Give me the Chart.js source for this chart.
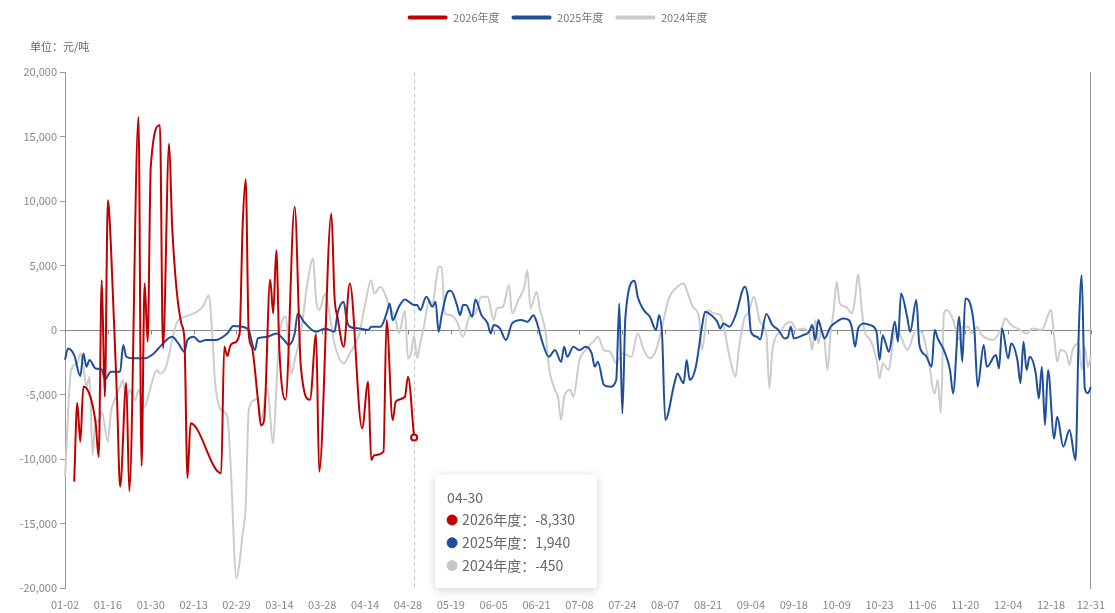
<!DOCTYPE html>
<html>
<head>
<meta charset="utf-8">
<script src="https://cdn.jsdelivr.net/npm/chart.js@4.4.1/dist/chart.umd.min.js"></script>
<style>
  html, body { margin: 0; padding: 0; background: #fff; }
</style>
</head>
<body>
<canvas id="chart" width="1115" height="613"></canvas>
<script>
// ── DATA ──────────────────────────────────────────────────────────────────

// calendar used for the category axis (days without any quote are left out)
const monthLengths = [31, 29, 31, 30, 31, 30, 31, 31, 30, 31, 30, 31];
const closedDays = ['01-01', '02-17', '02-18', '04-04', '04-05', '04-06',
  '05-01', '05-02', '05-03', '05-04', '05-05', '05-11', '05-12',
  '05-31', '06-01', '06-02', '06-15', '06-16', '06-29', '06-30', '07-06',
  '07-13', '07-14', '10-01', '10-02', '10-03', '10-04', '10-05', '10-06', '10-07'];

const tickLabels = ['01-02', '01-16', '01-30', '02-13', '02-29', '03-14', '03-28',
  '04-14', '04-28', '05-19', '06-05', '06-21', '07-08', '07-24', '08-07', '08-21',
  '09-04', '09-18', '10-09', '10-23', '11-06', '11-20', '12-04', '12-18', '12-31'];

const yTicks = { min: -20000, max: 20000, step: 5000 };
const unitText = '单位：元/吨';
const focusDate = '04-30';

const seriesNames = ['2026年度', '2025年度', '2024年度'];

const points2026 = [
  ['01-05', -11750], ['01-06', -5660], ['01-07', -8650], ['01-08', -4390], ['01-09', -4500],
  ['01-12', -7200], ['01-13', -9820], ['01-14', 3875], ['01-15', -5170], ['01-16', 10075],
  ['01-17', 6500], ['01-19', -5400], ['01-20', -12140], ['01-22', -4100], ['01-23', -12500],
  ['01-26', 16530], ['01-27', -10540], ['01-28', 3640], ['01-29', -900], ['01-30', 12650],
  ['02-02', 15890], ['02-03', -1400], ['02-05', 14470], ['02-06', 8000], ['02-09', 500],
  ['02-10', -700], ['02-11', -11470], ['02-12', -7230], ['02-24', -11100], ['02-25', -1300],
  ['02-26', -2000], ['02-27', -1200], ['02-28', -1000], ['03-01', -300], ['03-02', 8000],
  ['03-03', 11700], ['03-04', -300], ['03-05', -1300], ['03-07', -5400], ['03-08', -7400],
  ['03-09', -7000], ['03-11', 3900], ['03-12', 1300], ['03-13', 6200], ['03-14', -1500],
  ['03-16', -5400], ['03-19', 9560], ['03-21', -2800], ['03-24', -5400], ['03-26', -300],
  ['03-27', -10980], ['03-31', 9040], ['04-01', 2580], ['04-02', 1000], ['04-07', -1290],
  ['04-09', 3620], ['04-13', -7620], ['04-15', -4000], ['04-16', -10075], ['04-17', -9700],
  ['04-20', -9430], ['04-21', 775], ['04-23', -6975], ['04-24', -5550], ['04-27', -5170],
  ['04-28', -3620], ['04-30', -8330]
];

const points2025 = [
  ['01-02', -2300], ['01-03', -1420], ['01-05', -1940], ['01-07', -3570], ['01-08', -1810],
  ['01-09', -2840], ['01-10', -2320], ['01-12', -2970], ['01-14', -3050], ['01-15', -3820],
  ['01-17', -3230], ['01-20', -3230], ['01-21', -1160], ['01-22', -2070], ['01-24', -2190],
  ['01-28', -2190], ['01-31', -1810], ['02-03', -1030], ['02-06', -520], ['02-08', -1030],
  ['02-10', -1680], ['02-11', -775], ['02-13', -520], ['02-15', -900], ['02-19', -775],
  ['02-22', -775], ['02-26', -260], ['02-28', 310], ['03-03', 180], ['03-04', 0],
  ['03-06', -1550], ['03-07', -650], ['03-10', -520], ['03-13', -260], ['03-16', -900],
  ['03-17', -1160], ['03-19', -260], ['03-20', 1290], ['03-22', 650], ['03-26', -130],
  ['03-29', 130], ['04-01', -130], ['04-02', 1290], ['04-07', 2190], ['04-08', 775],
  ['04-09', 260], ['04-12', 130], ['04-15', 0], ['04-16', 260], ['04-19', 260],
  ['04-21', 1290], ['04-22', 2070], ['04-23', 775], ['04-25', 1800], ['04-27', 2380],
  ['04-29', 2070], ['04-30', 1940], ['05-06', 1940], ['05-07', 1550], ['05-09', 2580],
  ['05-13', 1810], ['05-14', 2190], ['05-15', -130], ['05-16', 1160], ['05-18', 2970],
  ['05-19', 3050], ['05-21', 1940], ['05-22', 1160], ['05-23', 1940], ['05-24', 1940],
  ['05-26', 1030], ['05-27', 2380], ['05-29', 1160], ['06-03', 520], ['06-04', -260],
  ['06-05', 390], ['06-07', 130], ['06-09', -775], ['06-11', 520], ['06-14', 775],
  ['06-18', 650], ['06-20', 1160], ['06-21', 650], ['06-23', -1030], ['06-25', -2070],
  ['06-27', -1550], ['07-01', -2460], ['07-02', -1290], ['07-03', -2070], ['07-05', -1290],
  ['07-08', -1550], ['07-10', -1290], ['07-12', -1810], ['07-15', -2840], ['07-16', -2460],
  ['07-18', -4260], ['07-20', -4390], ['07-22', -3875], ['07-23', 2070], ['07-24', -6460],
  ['07-25', 1030], ['07-28', 3820], ['07-29', 2580], ['07-31', 1550], ['08-02', 1030],
  ['08-04', 0], ['08-05', 1160], ['08-06', -520], ['08-07', -6975], ['08-10', -4130],
  ['08-11', -3360], ['08-13', -4130], ['08-14', -2325], ['08-15', -3875], ['08-17', -2840],
  ['08-19', 260], ['08-20', 1420], ['08-22', 1160], ['08-24', 650], ['08-25', 130],
  ['08-26', 520], ['08-28', 260], ['08-30', 1160], ['09-02', 3360], ['09-03', 2580],
  ['09-04', -130], ['09-06', -520], ['09-07', -720], ['09-09', 1240], ['09-11', 390],
  ['09-13', 0], ['09-15', -650], ['09-16', -570], ['09-17', 260], ['09-18', -650],
  ['09-21', -390], ['09-23', -130], ['09-24', 390], ['09-25', -775], ['09-26', 775],
  ['09-27', 0], ['09-28', -650], ['09-30', 260], ['10-09', 650], ['10-11', 900],
  ['10-13', 775], ['10-14', 130], ['10-15', -1290], ['10-16', 130], ['10-18', 520],
  ['10-20', 390], ['10-22', -130], ['10-23', -2320], ['10-24', -390], ['10-25', -1030],
  ['10-26', -1680], ['10-28', 650], ['10-29', -900], ['10-30', 2840], ['11-01', 1030],
  ['11-02', -130], ['11-04', 2325], ['11-05', -1160], ['11-07', -1940], ['11-09', -2840],
  ['11-10', 0], ['11-11', -650], ['11-13', -1550], ['11-15', -3100], ['11-16', -4910],
  ['11-18', 1030], ['11-19', -2460], ['11-20', 2460], ['11-22', 1680], ['11-23', -130],
  ['11-24', -4390], ['11-26', -1160], ['11-27', -2840], ['11-30', -1940], ['12-01', -2970],
  ['12-02', 130], ['12-04', -2190], ['12-05', -1030], ['12-07', -2320], ['12-08', -4130],
  ['12-09', -900], ['12-10', -3100], ['12-11', -2070], ['12-13', -3360], ['12-14', -5300],
  ['12-15', -2840], ['12-16', -7360], ['12-17', -3100], ['12-19', -8400], ['12-20', -6720],
  ['12-22', -9040], ['12-24', -7750], ['12-26', -10075], ['12-27', -500], ['12-28', 4260],
  ['12-29', -4500], ['12-30', -4900], ['12-31', -4400]
];

const points2024 = [
  ['01-02', -11370], ['01-04', -3100], ['01-06', -2580], ['01-07', -1810], ['01-08', -2840],
  ['01-09', -4390], ['01-10', -3620], ['01-11', -9690], ['01-12', -6975], ['01-13', -7100],
  ['01-14', -6330], ['01-16', -8650], ['01-17', -6330], ['01-18', -5550], ['01-20', -4390],
  ['01-21', -3875], ['01-22', -5550], ['01-23', -4650], ['01-25', -5425], ['01-26', -4650],
  ['01-28', -5940], ['01-30', -4390], ['02-01', -3100], ['02-02', -3360], ['02-04', -2840],
  ['02-07', 260], ['02-08', 775], ['02-10', 1030], ['02-13', 1290], ['02-16', 1810],
  ['02-20', 2710], ['02-21', 0], ['02-22', -4000], ['02-24', -6200], ['02-26', -6700],
  ['02-27', -10075], ['02-29', -19240], ['03-01', -18000], ['03-02', -15800], ['03-03', -13700],
  ['03-04', -6200], ['03-06', -5425], ['03-07', -5300], ['03-08', -7000], ['03-10', -4500],
  ['03-12', -8780], ['03-13', -4500], ['03-14', -600], ['03-16', 1030], ['03-18', -3360],
  ['03-19', -2325], ['03-21', -260], ['03-23', 3360], ['03-25', 5560], ['03-26', 2325],
  ['03-27', 1550], ['03-29', 2840], ['03-30', 1810], ['04-01', -1030], ['04-07', -2580],
  ['04-09', -1800], ['04-12', -400], ['04-14', 2000], ['04-16', 3875], ['04-17', 2840],
  ['04-19', 3360], ['04-22', 1810], ['04-24', 775], ['04-25', -260], ['04-27', 1500],
  ['04-28', -2200], ['04-29', -1800], ['04-30', -450], ['05-06', -2190], ['05-07', -1000],
  ['05-08', 0], ['05-10', 2325], ['05-13', 2000], ['05-14', 3500], ['05-15', 4900],
  ['05-16', 4900], ['05-17', 1290], ['05-19', 1160], ['05-21', 650], ['05-23', -520],
  ['05-25', 1030], ['05-27', 1290], ['05-29', 2580], ['06-03', 2580], ['06-05', 775],
  ['06-06', 1680], ['06-08', 1810], ['06-10', 3490], ['06-11', 1290], ['06-13', 2325],
  ['06-17', 3360], ['06-18', 4650], ['06-19', 1680], ['06-21', 2970], ['06-22', 1680],
  ['06-24', -260], ['06-25', -2840], ['06-27', -4650], ['06-28', -5170], ['07-01', -6975],
  ['07-02', -5170], ['07-04', -4650], ['07-05', -5170], ['07-08', -2325], ['07-10', -1550],
  ['07-15', -775], ['07-16', -520], ['07-18', -1550], ['07-20', -1680], ['07-22', -2580],
  ['07-24', -1810], ['07-27', -2070], ['07-29', -260], ['07-31', -1550], ['08-02', -2190],
  ['08-04', -1550], ['08-06', 260], ['08-08', 2325], ['08-11', 3360], ['08-13', 3620],
  ['08-14', 3100], ['08-16', 1810], ['08-18', 1030], ['08-19', -1550], ['08-21', 1550],
  ['08-23', 1290], ['08-25', 1160], ['08-28', -2070], ['08-30', -3620], ['08-31', -1550],
  ['09-02', 1030], ['09-03', 1290], ['09-05', 2580], ['09-07', 600], ['09-09', -260],
  ['09-10', -4500], ['09-11', -1550], ['09-14', 0], ['09-15', 390], ['09-17', 650],
  ['09-19', 0], ['09-21', 130], ['09-23', -260], ['09-24', -1550], ['09-25', 775],
  ['09-26', -1030], ['09-27', 0], ['09-28', -775], ['09-29', -3100], ['09-30', -260],
  ['10-08', 1500], ['10-09', 3750], ['10-10', 2070], ['10-12', 1810], ['10-14', 1290],
  ['10-15', 2460], ['10-16', 4340], ['10-17', 2070], ['10-18', 0], ['10-20', -775],
  ['10-22', -2325], ['10-23', -3750], ['10-24', -2580], ['10-26', -3100], ['10-27', -1550],
  ['10-28', 130], ['10-30', -520], ['11-01', -1550], ['11-04', 0], ['11-06', -260],
  ['11-08', -2325], ['11-10', -4910], ['11-11', -3875], ['11-12', -6460], ['11-13', 1290],
  ['11-14', 1550], ['11-16', 775], ['11-18', -775], ['11-19', 260], ['11-21', 260],
  ['11-22', -260], ['11-24', 260], ['11-25', -260], ['11-27', -650], ['11-29', -775],
  ['12-02', 260], ['12-03', 900], ['12-05', 390], ['12-08', 0], ['12-10', -260],
  ['12-12', 130], ['12-15', 0], ['12-17', 1160], ['12-18', 1550], ['12-19', -520],
  ['12-20', -2460], ['12-21', -1550], ['12-23', -1810], ['12-24', -2710], ['12-25', -1550],
  ['12-27', -1030], ['12-28', -3100], ['12-29', -1290], ['12-30', -2840], ['12-31', -2070]
];

// ── SETUP ─────────────────────────────────────────────────────────────────

const FONT = '"Noto Sans CJK SC", "Noto Sans", sans-serif';
const COLORS = ['#c00000', '#1f4e9c', '#cccccc'];
const DOT_COLORS = ['#c00000', '#1f4e9c', '#c6c6c6'];

const categories = [];
monthLengths.forEach(function(len, m) {
  for (let d = 1; d <= len; d++) {
    const key = String(m + 1).padStart(2, '0') + '-' + String(d).padStart(2, '0');
    if (!closedDays.includes(key)) categories.push(key);
  }
});
const tickSet = new Set(tickLabels);

function toXY(points) {
  return points.map(function(p) { return { x: p[0], y: p[1] }; });
}

function lineDataset(i, points) {
  return {
    label:                  seriesNames[i],
    data:                   toXY(points),
    borderColor:            COLORS[i],
    backgroundColor:        COLORS[i],
    borderWidth:            2,
    fill:                   false,
    cubicInterpolationMode: 'monotone',
    pointRadius:            0,
    pointHoverRadius:       i === 0 ? 3 : 0,
    pointHoverBorderWidth:  2,
    pointHoverBorderColor:  COLORS[i],
    pointHoverBackgroundColor: '#fff'
  };
}

Chart.Tooltip.positioners.besideLine = function(items) {
  if (!items.length) return false;
  return { x: items[0].element.x + 25, y: this.chart.chartArea.bottom };
};

const marksPlugin = {
  id: 'marks',
  // the unit title starts a little left of the plot, not at the canvas edge
  afterLayout(chart) {
    if (chart.titleBlock) chart.titleBlock.left = chart.chartArea.left - 35;
  },
  beforeDatasetsDraw(chart) {
    const { ctx, chartArea, scales } = chart;
    const zeroY = Math.round(scales.y.getPixelForValue(0)) + 0.5;
    ctx.save();
    ctx.strokeStyle = '#888';
    ctx.lineWidth = 1;
    tickLabels.forEach(function(lbl) {
      const px = Math.round(scales.x.getPixelForValue(categories.indexOf(lbl))) + 0.5;
      ctx.beginPath();
      ctx.moveTo(px, zeroY);
      ctx.lineTo(px, zeroY + 4);
      ctx.stroke();
    });
    const hx = Math.round(scales.x.getPixelForValue(categories.indexOf(focusDate))) + 0.5;
    ctx.strokeStyle = '#c8c8c8';
    ctx.setLineDash([4, 3]);
    ctx.beginPath();
    ctx.moveTo(hx, chartArea.top);
    ctx.lineTo(hx, chartArea.bottom);
    ctx.stroke();
    ctx.restore();
  },
  beforeTooltipDraw(chart, args) {
    const t = args.tooltip;
    if (!t.opacity) return;
    const ctx = chart.ctx;
    ctx.save();
    ctx.shadowColor = 'rgba(0,0,0,0.18)';
    ctx.shadowBlur = 10;
    ctx.shadowOffsetY = 2;
    ctx.fillStyle = '#fff';
    ctx.beginPath();
    ctx.roundRect(t.x, t.y, t.width, t.height, 4);
    ctx.fill();
    ctx.restore();
  }
};

const chart = new Chart(document.getElementById('chart'), {
  type: 'line',
  data: {
    labels: categories,
    datasets: [
      lineDataset(0, points2026),
      lineDataset(1, points2025),
      lineDataset(2, points2024)
    ]
  },
  plugins: [marksPlugin],
  options: {
    responsive:       false,
    devicePixelRatio: 1,
    animation:        false,
    events:           [],
    layout: { padding: { top: 0, left: 0, right: 0, bottom: 0 } },
    plugins: {
      // unit label sits between the legend and the plot
      title: {
        display:  true,
        text:     unitText,
        align:    'start',
        position: 'top',
        weight:   500,
        color:    '#666',
        font:     { family: FONT, size: 11, weight: 'normal' },
        padding:  { top: 7, bottom: 19 }
      },
      legend: {
        position: 'top',
        labels: {
          boxWidth:        40,
          boxHeight:       4,
          padding:         12,
          color:           '#777',
          font:            { family: FONT, size: 11 },
          useBorderRadius: true,
          borderRadius:    2,
          generateLabels: function(c) {
            return c.data.datasets.map(function(ds, i) {
              return {
                text: ds.label, fillStyle: ds.borderColor, strokeStyle: ds.borderColor,
                lineWidth: 0, hidden: false, datasetIndex: i, fontColor: '#777', borderRadius: 2
              };
            });
          }
        }
      },
      tooltip: {
        position:          'besideLine',
        xAlign:            'left',
        yAlign:            'bottom',
        caretSize:         0,
        caretPadding:      0,
        cornerRadius:      4,
        backgroundColor:   '#fff',
        titleColor:        '#666',
        bodyColor:         '#666',
        titleFont:         { family: FONT, size: 14, weight: 'normal' },
        bodyFont:          { family: FONT, size: 14 },
        titleMarginBottom: 6,
        bodySpacing:       6,
        padding:           { top: 14, bottom: 14, left: 12, right: 22 },
        usePointStyle:     true,
        boxWidth:          10,
        boxHeight:         10,
        boxPadding:        3,
        callbacks: {
          label: function(ctx) {
            return ctx.dataset.label + '：' + ctx.parsed.y.toLocaleString('en-US');
          },
          labelColor: function(ctx) {
            const c = DOT_COLORS[ctx.datasetIndex];
            return { borderColor: c, backgroundColor: c, borderWidth: 0 };
          },
          labelPointStyle: function() {
            return { pointStyle: 'circle', rotation: 0 };
          }
        }
      }
    },
    scales: {
      x: {
        type:   'category',
        offset: false,
        grid:   { display: false, drawTicks: false },
        border: { display: false },
        ticks: {
          autoSkip:    false,
          maxRotation: 0,
          minRotation: 0,
          padding:     10,
          color:       '#888',
          font:        { family: FONT, size: 11 },
          callback: function(v, i) {
            return tickSet.has(categories[i]) ? categories[i] : '';
          }
        },
        afterFit: function(s) { s.height = 25; }
      },
      y: {
        min: yTicks.min,
        max: yTicks.max,
        ticks: {
          stepSize: yTicks.step,
          padding:  3,
          color:    '#888',
          font:     { family: FONT, size: 11 },
          callback: function(v) { return v.toLocaleString('en-US'); }
        },
        grid: {
          color:      function(ctx) { return ctx.tick && ctx.tick.value === 0 ? '#8a8a8a' : 'rgba(0,0,0,0)'; },
          tickColor:  '#999',
          tickLength: 5
        },
        border: { color: '#999' },
        afterFit: function(s) { s.width = 65; }
      },
      y2: {
        position: 'right',
        min: yTicks.min,
        max: yTicks.max,
        grid:   { display: false, drawTicks: false },
        ticks:  { display: false },
        border: { color: '#999' },
        afterFit: function(s) { s.width = 18; }
      }
    }
  }
});

// show the tooltip for the focus day, as in the source picture
const active = chart.data.datasets.map(function(ds, i) {
  return { datasetIndex: i, index: ds.data.findIndex(function(p) { return p.x === focusDate; }) };
});
chart.setActiveElements(active);
chart.tooltip.setActiveElements(active, { x: 0, y: 0 });
chart.update();
</script>
</body>
</html>
